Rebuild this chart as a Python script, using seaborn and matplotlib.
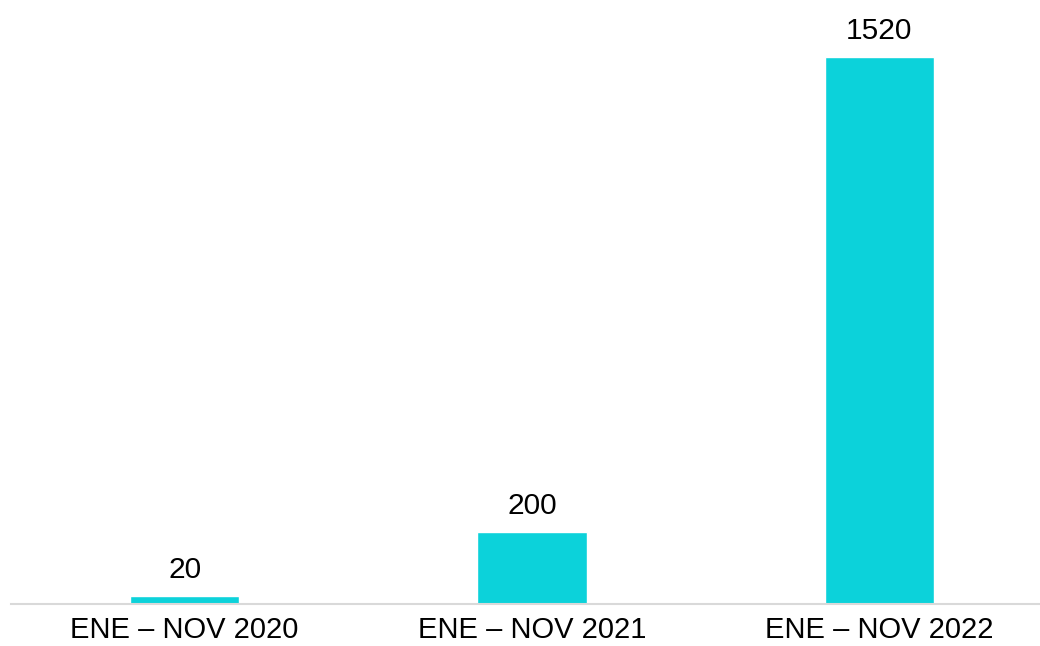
import pandas as pd
import matplotlib.pyplot as plt
import seaborn as sns

# datos del grafico
periodos = ['ENE – NOV 2020', 'ENE – NOV 2021', 'ENE – NOV 2022']
valores = [20, 200, 1520]

color_barra = '#0CD2DA'

sns.set_style('white')
plt.rcParams['font.family'] = ['Liberation Sans', 'DejaVu Sans']

df = pd.DataFrame({'periodo': periodos, 'valor': valores})

fig = plt.figure(figsize=(10.4, 6.46), dpi=100)
ax = fig.add_axes([11 / 1040, (646 - 603.5) / 646, 1 - 11 / 1040, 603.5 / 646])

sns.barplot(data=df, x='periodo', y='valor', color=color_barra,
            saturation=1, width=0.314, ax=ax)

for i, v in enumerate(valores):
    ax.annotate(f'{v}', (i, v), xytext=(0, 8.5), textcoords='offset points',
                ha='center', va='bottom', fontsize=21.5, color='black')

ax.set_xlim(-0.5, 2.4626)
ax.set_ylim(0, 1677.6)
ax.set_xlabel('')
ax.set_ylabel('')
ax.set_yticks([])
ax.tick_params(axis='x', length=0, pad=9, labelsize=21, colors='black')

for lado in ['top', 'right', 'left']:
    ax.spines[lado].set_visible(False)
ax.spines['bottom'].set_color('#D9D9D9')
ax.spines['bottom'].set_linewidth(1.5)

fig.savefig('out.png', dpi=100)
